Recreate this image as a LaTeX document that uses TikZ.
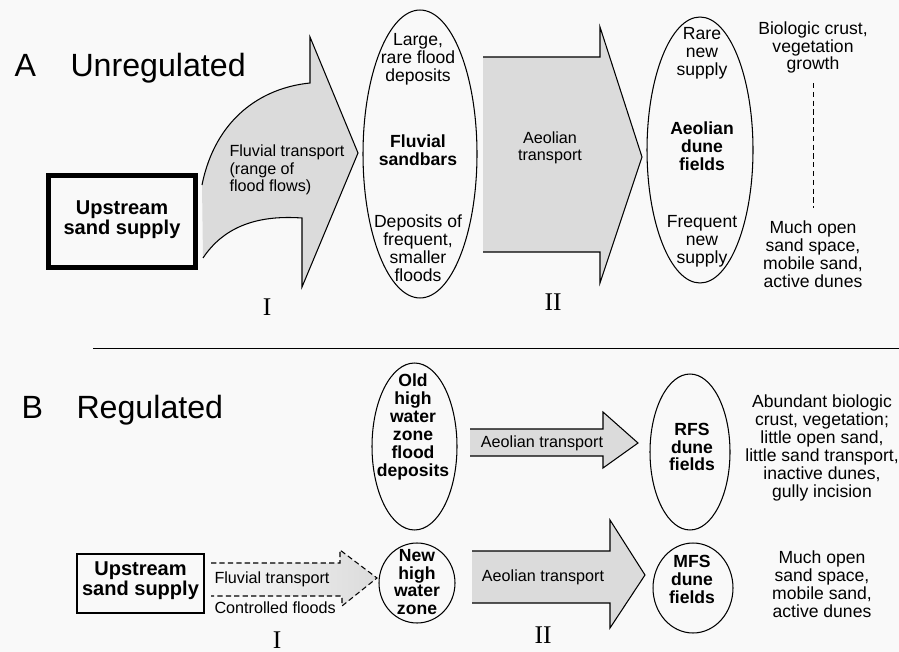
\documentclass[tikz,border=0pt]{standalone}
\usepackage{fontspec}
\setmainfont{Liberation Sans}
\newfontfamily\numfont{Liberation Serif}
\usetikzlibrary{shapes.geometric,backgrounds}
\definecolor{sandgray}{gray}{0.86}
\definecolor{paper}{gray}{0.975}
\newcommand{\lbltext}{\fontsize{10}{10.2}\selectfont}
\newcommand{\arrtext}{\fontsize{9.2}{9.8}\selectfont}
\newcommand{\headtext}{\fontsize{18.3}{20}\selectfont}

\begin{document}
\begin{tikzpicture}[x=0.02cm,y=-0.02cm,line width=0.6pt,
    lbl/.style={align=center,inner sep=0pt,font=\lbltext},
    lblb/.style={align=center,inner sep=0pt,font=\lbltext\bfseries},
    arrlbl/.style={align=left,inner sep=0pt,font=\arrtext},
    zone/.style={draw,ellipse,inner sep=0pt},
    head/.style={inner sep=0pt,anchor=base west,font=\headtext},
    num/.style={inner sep=0pt,font=\numfont\fontsize{14.5}{14.5}\selectfont}]
            \useasboundingbox (0,0) rectangle (899,652);

            % A: unregulated
            \node[head] (tA) at (14,77) {A};
            \node[head] (tunreg) at (70,77) {Unregulated};
            \node[draw,line width=2.8pt,minimum width=2.94cm,minimum height=1.84cm,inner sep=0pt] (supplyA) at (122,221.5) {};
            \node[lblb,font=\fontsize{11.4}{11.4}\selectfont\bfseries] at (122,220) {Upstream\\sand supply};
            \node[zone,minimum width=2.28cm,minimum height=5.76cm] (sandbars) at (420,154) {};
            \node[lbl]  (large)  at (418,59.5)  {Large,\\rare flood\\deposits};
            \node[lblb] (fluvA)  at (418,150.5) {Fluvial\\sandbars};
            \node[lbl]  (small)  at (418,248.5) {Deposits of\\frequent,\\smaller\\floods};
            \node[zone,minimum width=2.12cm,minimum height=5.32cm] (dunesA) at (700,150) {};
            \node[lbl]  (rare)   at (702,53.5)  {Rare\\new\\supply};
            \node[lblb] (aeolA)  at (702,146.5) {Aeolian\\dune\\fields};
            \node[lbl]  (freq)   at (702,241)   {Frequent\\new\\supply};
            \node[lbl]  (crust)  at (813,47.5)  {Biologic crust,\\vegetation\\growth};
            \node[lbl]  (openA)  at (813,254)   {Much open\\sand space,\\mobile sand,\\active dunes};
            \draw[densely dashed,line width=0.4pt,shorten <=0.18cm,shorten >=0.24cm] (crust.south) -- (openA.north);
            \draw (202,185) .. controls (215,120) and (260,88) .. (310,83) -- (310,37) -- (358,153) -- (302,287) -- (302,218) .. controls (260,215) and (225,225) .. (203,258);
            \draw (483,57) -- (600,57) -- (600,27) -- (642,157) -- (600,283) -- (600,252) -- (483,252);
            \node[arrlbl,anchor=west] (flowA) at (229,170) {Fluvial transport\\(range of\\flood flows)};
            \node[lbl,font=\arrtext] (windA) at (550,147.5) {Aeolian\\transport};
            \node[num] (IA)  at (267,307) {I};
            \node[num] (IIA) at (553,302) {II};

            \draw[line width=0.5pt] (93,348) -- (899,348);

            % B: regulated
            \node[head] (tB) at (21,418) {B};
            \node[head] (treg) at (76,418) {Regulated};
            \node[draw,minimum width=2.54cm,minimum height=1.18cm,inner sep=0pt] (supplyB) at (140.5,583.5) {};
            \node[lblb,font=\fontsize{11.4}{11.4}\selectfont\bfseries] at (140.5,581) {Upstream\\sand supply};
            \node[zone,minimum width=1.7cm,minimum height=3.34cm] (oldhw) at (414.5,446.5) {};
            \node[lblb] at (413,427) {Old\\high\\water\\zone\\flood\\deposits};
            \node[zone,minimum width=1.52cm,minimum height=1.6cm] (newhw) at (417,583) {};
            \node[lblb] at (417,582) {New\\high\\water\\zone};
            \node[zone,minimum width=1.6cm,minimum height=3.12cm] (rfs) at (690,452) {};
            \node[lblb] at (692,447) {RFS\\dune\\fields};
            \node[zone,minimum width=1.6cm,minimum height=1.8cm] (mfs) at (693,588) {};
            \node[lblb] at (692,579.5) {MFS\\dune\\fields};
            \node[lbl] (crustB) at (822,448)   {Abundant biologic\\crust, vegetation;\\little open sand,\\little sand transport,\\inactive dunes,\\gully incision};
            \node[lbl] (openB)  at (822,584.5) {Much open\\sand space,\\mobile sand,\\active dunes};
            \draw[dash pattern=on 3pt off 1.8pt] (211,563) -- (340,563) -- (340,550) -- (377,578) -- (342,606) -- (342,596) -- (211,596);
            \draw (470,429) -- (603,429) -- (603,412) -- (638,443) -- (603,468) -- (603,456) -- (470,456);
            \draw (472,551) -- (610,551) -- (610,520) -- (645,575) -- (610,628) -- (610,603) -- (472,603);
            \node[arrlbl,anchor=west] (flowB) at (214,579) {Fluvial transport};
            \node[arrlbl,anchor=west] (ctrl)  at (214,608) {Controlled floods};
            \node[lbl,font=\arrtext] (windB1) at (542,443) {Aeolian transport};
            \node[lbl,font=\arrtext] (windB2) at (543,577) {Aeolian transport};
            \node[num] (IB)  at (277,640) {I};
            \node[num] (IIB) at (543,635) {II};

            % Background
            \begin{scope}[on background layer]
                \fill[paper] (0,0) rectangle (899,652);
                \fill[sandgray] (202,185) .. controls (215,120) and (260,88) .. (310,83) -- (310,37) -- (358,153) -- (302,287) -- (302,218) .. controls (260,215) and (225,225) .. (203,258) -- cycle;
                \fill[sandgray] (483,57) -- (600,57) -- (600,27) -- (642,157) -- (600,283) -- (600,252) -- (483,252) -- cycle;
                \shade[left color=paper,right color=sandgray] (211,563) -- (340,563) -- (340,550) -- (377,578) -- (342,606) -- (342,596) -- (211,596) -- cycle;
                \fill[sandgray] (470,429) -- (603,429) -- (603,412) -- (638,443) -- (603,468) -- (603,456) -- (470,456) -- cycle;
                \fill[sandgray] (472,551) -- (610,551) -- (610,520) -- (645,575) -- (610,628) -- (610,603) -- (472,603) -- cycle;
            \end{scope}
\end{tikzpicture}
\end{document}
